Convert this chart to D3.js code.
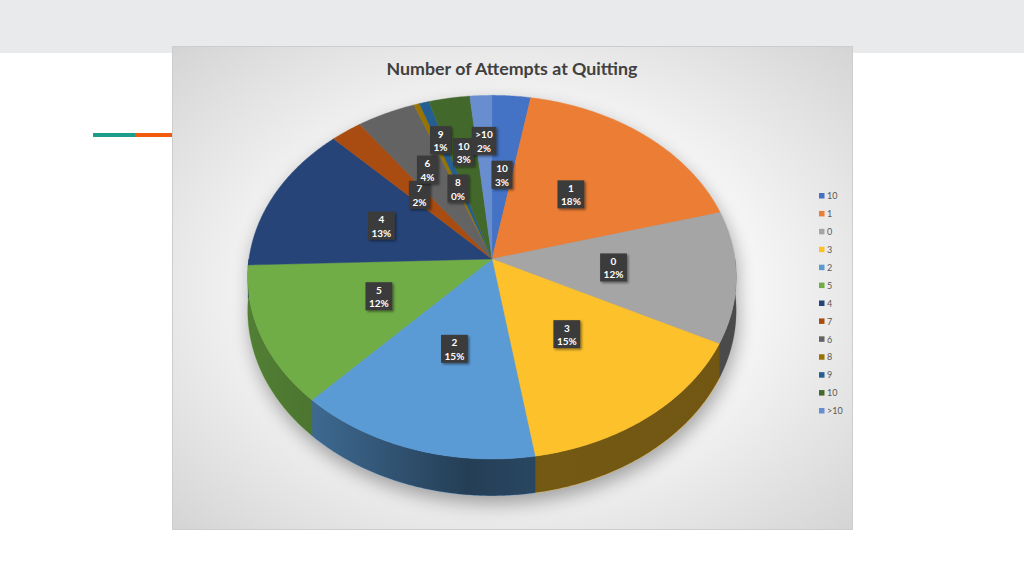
<!DOCTYPE html>
<html><head><meta charset="utf-8">
<script src="https://cdn.jsdelivr.net/npm/d3@7"></script>
<style>html,body{margin:0;padding:0;background:#fff;overflow:hidden}</style>
</head><body>
<svg id="c" width="1024" height="576"></svg>
<script>
// ---- data ----
const title = "Number of Attempts at Quitting";
const categories = ["10", "1", "0", "3", "2", "5", "4", "7", "6", "8", "9", "10", ">10"];
const values = [2.8, 17.9, 11.7, 15.0, 14.6, 12.4, 13.2, 2.3, 4.3, 0.4, 0.7, 3.0, 1.6];
const colors = ["#4472C4", "#EC7D35", "#A5A5A5", "#FCC12B", "#5B9BD5", "#70AD47",
                "#264478", "#A84C12", "#636363", "#997300", "#255E91", "#43682B", "#698ED0"];

// ---- layout (label radial placement for crowded small slices) ----
const labelRadius = {0: 0.49, 7: 0.48, 8: 0.59, 9: 0.43, 10: 0.74, 11: 0.64, 12: 0.70};

const data = categories.map((c, i) => ({cat: c, value: values[i], i}));
const total = d3.sum(values);
const color = d3.scaleOrdinal().domain(d3.range(categories.length)).range(colors);

const svg = d3.select("#c");
const defs = svg.append("defs");

// page background
svg.append("rect").attr("width", 1024).attr("height", 576).attr("fill", "#fff");
svg.append("rect").attr("width", 1024).attr("height", 53).attr("fill", "#e9eaec");
svg.append("rect").attr("x", 93).attr("y", 133).attr("width", 42).attr("height", 4).attr("fill", "#1e9c8a");
svg.append("rect").attr("x", 135).attr("y", 133).attr("width", 37).attr("height", 4).attr("fill", "#f05a0c");

// chart area
const rg = defs.append("radialGradient").attr("id", "bg").attr("cx", "50%").attr("cy", "50%").attr("r", "72%");
rg.append("stop").attr("offset", "0%").attr("stop-color", "#ffffff");
rg.append("stop").attr("offset", "50%").attr("stop-color", "#f5f5f5");
rg.append("stop").attr("offset", "100%").attr("stop-color", "#d3d3d3");
svg.append("rect").attr("x", 172.5).attr("y", 46.5).attr("width", 680).attr("height", 483)
  .attr("fill", "url(#bg)").attr("stroke", "#cdcdcd");

svg.append("text").attr("x", 512).attr("y", 74.5).attr("text-anchor", "middle")
  .attr("font-family", "Lato, 'Open Sans', sans-serif").attr("font-weight", "bold")
  .attr("font-size", 17.8).attr("fill", "#404040").text(title);

// ---- perspective projection of the pie disk ----
const cx = 492, cy = 259, B = 243, A = 180, K = 0.1, DEPTH = 33;
const rScale = d3.scaleLinear().domain([0, 1]).range([0, 1]);
function proj(theta, r, h = 0) {
  const rr = rScale(r);
  const u = rr * Math.sin(theta), v = -rr * Math.cos(theta);
  const w = 1 / (1 - K * v);
  return [cx + B * u * w, cy + A * v * w + h * w];
}
function arcPts(a0, a1, r, h) {
  const n = Math.max(2, Math.ceil(Math.abs(a1 - a0) / 0.01));
  return d3.range(n + 1).map(i => proj(a0 + (a1 - a0) * i / n, r, h));
}
const line = d3.line();

const pie = d3.pie().sort(null).value(d => d.value).startAngle(0).endAngle(2 * Math.PI);
const arcs = pie(data);

// shadow
const f = defs.append("filter").attr("id", "blur").attr("x", "-20%").attr("y", "-20%").attr("width", "140%").attr("height", "140%");
f.append("feGaussianBlur").attr("stdDeviation", 9);
const outline = arcPts(-Math.PI / 2, Math.PI / 2, 1, 0).concat(arcPts(Math.PI / 2, 3 * Math.PI / 2, 1, DEPTH));
svg.append("path").attr("d", line(outline.map(p => [p[0] + 2, p[1] + 8])) + "Z")
  .attr("fill", "#000").attr("opacity", 0.33).attr("filter", "url(#blur)");

// side walls
const FRONT0 = Math.PI / 2, FRONT1 = 3 * Math.PI / 2;
const wallG = svg.append("g");
arcs.forEach(a => {
  const s = Math.max(a.startAngle, FRONT0), e = Math.min(a.endAngle, FRONT1);
  if (e <= s) return;
  const pts = arcPts(s, e, 1, 0).concat(arcPts(e, s, 1, DEPTH));
  wallG.append("path").attr("d", line(pts) + "Z").attr("fill", color(a.data.i))
    .attr("stroke", color(a.data.i)).attr("stroke-width", 0.5);
});
const lg = defs.append("linearGradient").attr("id", "wallShade").attr("gradientUnits", "userSpaceOnUse")
  .attr("x1", 248).attr("x2", 736).attr("y1", 0).attr("y2", 0);
[[0, 0.27], [0.13, 0.32], [0.45, 0.6], [0.6, 0.54], [1, 0.55]].forEach(([o, op]) =>
  lg.append("stop").attr("offset", o).attr("stop-color", "#000").attr("stop-opacity", op));
const wallAll = arcPts(FRONT0, FRONT1, 1, 0).concat(arcPts(FRONT1, FRONT0, 1, DEPTH));
svg.append("path").attr("d", line(wallAll) + "Z").attr("fill", "url(#wallShade)");

// top faces
svg.append("g").selectAll("path").data(arcs).join("path")
  .attr("d", a => line([proj(0, 0)].concat(arcPts(a.startAngle, a.endAngle, 1, 0))) + "Z")
  .attr("fill", a => color(a.data.i))
  .attr("stroke", a => color(a.data.i)).attr("stroke-width", 0.4);

// labels
const ds = defs.append("filter").attr("id", "ds").attr("x", "-30%").attr("y", "-30%").attr("width", "170%").attr("height", "170%");
ds.append("feDropShadow").attr("dx", 1.5).attr("dy", 1.5).attr("stdDeviation", 1.2).attr("flood-color", "#000").attr("flood-opacity", 0.45);
const pct = d3.format(".0%");
const lab = svg.append("g").selectAll("g").data(arcs).join("g")
  .attr("transform", a => {
    const mid = (a.startAngle + a.endAngle) / 2;
    const r = labelRadius[a.data.i] !== undefined ? labelRadius[a.data.i] : 0.5;
    const p = proj(mid, r);
    return `translate(${p[0]},${p[1]})`;
  });
lab.each(function (a) {
  const g = d3.select(this);
  const l1 = a.data.cat, l2 = pct(a.data.value / total);
  const rect = g.append("rect").attr("fill", "#3b3b3b").attr("filter", "url(#ds)");
  const t = g.append("text").attr("text-anchor", "middle")
    .attr("font-family", "Lato, 'Open Sans', sans-serif").attr("font-weight", "bold")
    .attr("font-size", 10).attr("fill", "#fff");
  t.append("tspan").attr("x", 0).attr("y", -3).text(l1);
  t.append("tspan").attr("x", 0).attr("y", 10.5).text(l2);
  const bb = t.node().getBBox();
  const w = bb.width + 7, h = 28;
  rect.attr("x", -w / 2).attr("y", -h / 2 - 0.5).attr("width", w).attr("height", h);
});

// legend
const ly = d3.scalePoint().domain(d3.range(categories.length)).range([196, 411]);
const leg = svg.append("g").selectAll("g").data(data).join("g")
  .attr("transform", d => `translate(819,${ly(d.i)})`);
leg.append("rect").attr("x", 0).attr("y", -3).attr("width", 5.5).attr("height", 5.5).attr("fill", d => color(d.i));
leg.append("text").attr("x", 8).attr("y", 3.2)
  .attr("font-family", "Lato, 'Open Sans', sans-serif").attr("font-size", 9)
  .attr("fill", "#595959").text(d => d.cat);
</script>
</body></html>
